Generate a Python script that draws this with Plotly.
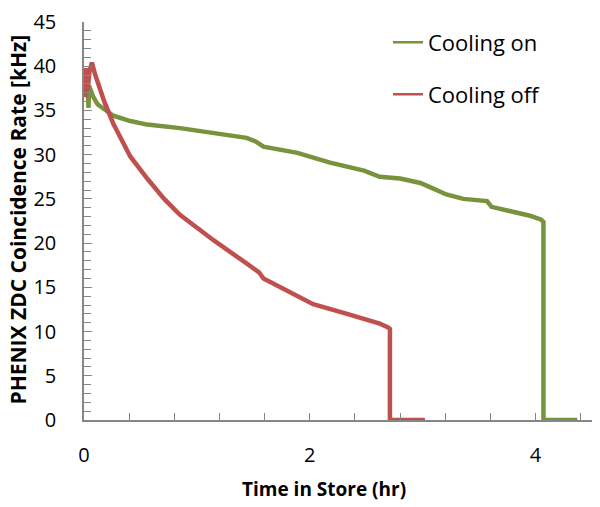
import plotly.graph_objects as go

# Cooling on (green)
on_t = [0.035, 0.04, 0.045, 0.06, 0.08, 0.12, 0.26, 0.41, 0.56, 0.85, 1.15, 1.44, 1.52, 1.59,
        1.89, 2.18, 2.48, 2.62, 2.80, 2.98, 3.07, 3.21, 3.36, 3.57, 3.61, 3.80, 3.95, 4.05, 4.07, 4.07, 4.37]
on_v = [36.8, 35.3, 37.8, 37.2, 36.6, 35.7, 34.4, 33.8, 33.4, 33.0, 32.5, 31.9, 31.5, 30.9,
        30.2, 29.1, 28.2, 27.5, 27.3, 26.8, 26.3, 25.5, 25.0, 24.75, 24.1, 23.6, 23.1, 22.65, 22.4, 0.0, 0.0]

# Cooling off (red)
off_t = [0.0, 0.01, 0.02, 0.03, 0.05, 0.07, 0.10, 0.18, 0.26, 0.41, 0.56, 0.71, 0.85, 1.15,
         1.44, 1.55, 1.59, 1.89, 2.03, 2.33, 2.62, 2.69, 2.71, 2.71, 3.02]
off_v = [38.0, 36.5, 39.8, 37.2, 39.5, 40.4, 39.0, 36.0, 33.5, 29.8, 27.3, 25.0, 23.2, 20.3,
         17.7, 16.7, 16.0, 14.0, 13.1, 12.0, 10.9, 10.5, 10.3, 0.0, 0.0]

series_names = ["Cooling on", "Cooling off"]
colors = ["#77933C", "#C0504D"]

x_range = [0, 4.5]
y_range = [0, 45]
x_ticks = [0, 2, 4]
x_labels = ["0", "2", "4"]

FONT = "Open Sans"
AX = "#868686"

L, R, T, B = 84, 8, 13, 87
W, H = 600, 507
PW, PH = W - L - R, H - T - B

fig = go.Figure()
fig.add_trace(go.Scatter(x=on_t, y=on_v, mode="lines", name=series_names[0], showlegend=False,
                         line=dict(color=colors[0], width=4.5)))
fig.add_trace(go.Scatter(x=off_t, y=off_v, mode="lines", name=series_names[1], showlegend=False,
                         line=dict(color=colors[1], width=4.5)))
# legend entries (thin sample lines, as in the reference)
fig.add_trace(go.Scatter(x=[None], y=[None], mode="lines", name=series_names[0],
                         line=dict(color=colors[0], width=2.5), legend="legend"))
fig.add_trace(go.Scatter(x=[None], y=[None], mode="lines", name=series_names[1],
                         line=dict(color=colors[1], width=2.5), legend="legend2"))

fig.update_layout(
    width=W, height=H,
    margin=dict(l=L, r=R, t=T, b=B),
    paper_bgcolor="white", plot_bgcolor="white",
    font=dict(family=FONT, size=20, color="black"),
    showlegend=True,
    legend=dict(x=(388 - L) / PW, y=(H - B - 34) / PH, xanchor="left", yanchor="middle",
                bgcolor="rgba(0,0,0,0)", font=dict(size=22, family=FONT), itemwidth=30),
    legend2=dict(x=(388 - L) / PW, y=(H - B - 87) / PH, xanchor="left", yanchor="middle",
                 bgcolor="rgba(0,0,0,0)", font=dict(size=22, family=FONT), itemwidth=30),
    xaxis=dict(range=x_range, tickvals=x_ticks, ticktext=x_labels,
               showgrid=False, zeroline=False, showline=True, linecolor=AX, linewidth=1.5,
               ticks="inside", ticklen=7, tickcolor=AX, tickwidth=1,
               ticklabelstandoff=16, ticklabeloverflow="allow",
               minor=dict(dtick=0.4, tick0=0, ticks="inside", ticklen=7, tickcolor=AX, showgrid=False),
               tickfont=dict(size=20, family=FONT)),
    yaxis=dict(range=y_range, dtick=5, tick0=0,
               showgrid=False, zeroline=False, showline=True, linecolor=AX, linewidth=1.5,
               ticks="inside", ticklen=8, tickcolor=AX, tickwidth=1,
               ticklabelstandoff=22, ticklabeloverflow="allow",
               minor=dict(dtick=1, tick0=0, ticks="inside", ticklen=7, tickcolor=AX, showgrid=False),
               tickfont=dict(size=20, family=FONT)),
    annotations=[
        dict(text="<b>Time in Store (hr)</b>", xref="paper", yref="paper",
             x=(324 - L) / PW, y=-(491 - (H - B)) / PH,
             xanchor="center", yanchor="middle", showarrow=False,
             font=dict(size=19, family=FONT)),
        dict(text="<b>PHENIX ZDC Coincidence Rate [kHz]</b>", xref="paper", yref="paper",
             x=-(L - 18) / PW, y=(H - B - 215) / PH, textangle=-90,
             xanchor="center", yanchor="middle", showarrow=False,
             font=dict(size=21, family=FONT)),
    ],
)

fig.write_html("out.html", config={"displayModeBar": False},
               post_script="document.body.style.margin='0';document.body.style.overflow='hidden';")
